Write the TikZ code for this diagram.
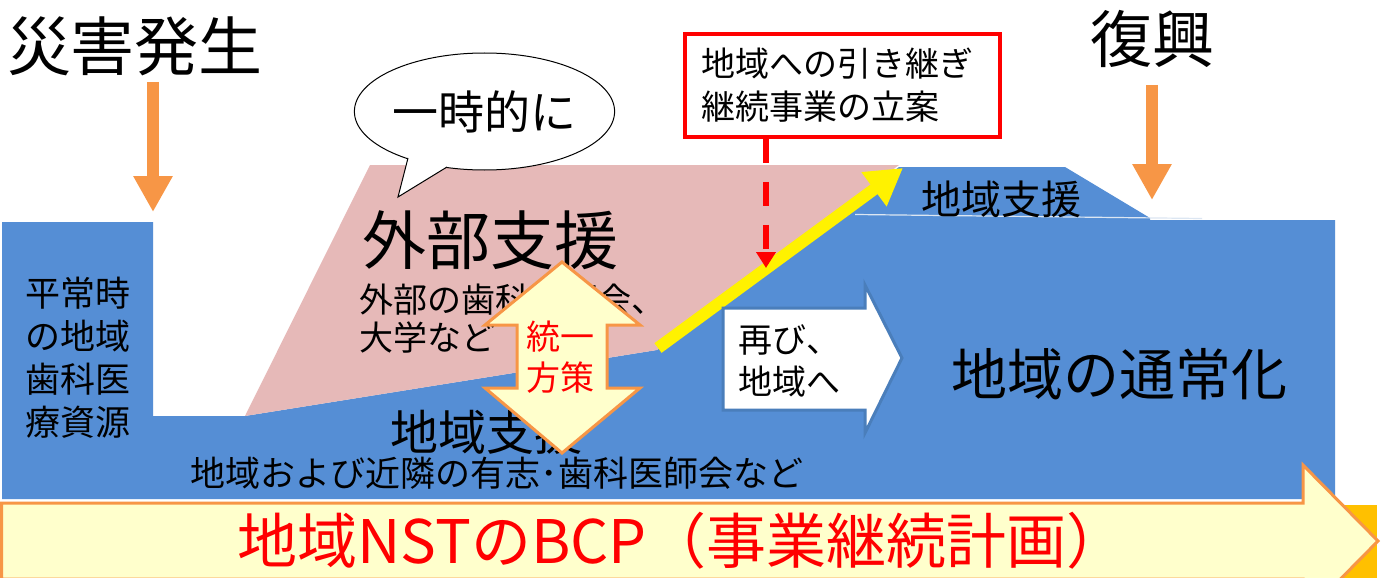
\documentclass[tikz,border=0pt]{standalone}
\usepackage{fontspec}
\setmainfont{Noto Sans CJK JP}
\usetikzlibrary{arrows.meta,shapes.geometric}
\definecolor{rblue}{HTML}{558ED5}
\definecolor{rpink}{HTML}{E6B9B8}
\definecolor{rorange}{HTML}{F79646}
\definecolor{rcream}{HTML}{FFFFCC}
\definecolor{rgold}{HTML}{FFC000}
\definecolor{rborder}{HTML}{4A7EBB}
\definecolor{rtabline}{HTML}{DCE6F2}
\begin{document}
\begin{tikzpicture}[x=1pt,y=-1pt]
\tikzset{
  lbl/.style={inner sep=0pt, text=black},
  fsA/.style={font=\fontsize{35}{43}\selectfont},
  fatarrow/.style={fill=rcream, draw=rorange, line width=3pt, line join=miter},
  downarrow/.style={draw=rorange, line width=12pt, -{Triangle[width=37pt,length=36pt]}},
  yelarrow/.style={draw=yellow, line width=12pt, -{Triangle[width=40pt,length=36pt]}},
  reddash/.style={draw=red, line width=5.5pt, dash pattern=on 24pt off 19pt, -{Triangle[width=19pt,length=16pt]}},
}
\useasboundingbox (0,0) rectangle (1385,578);
\fill[white] (0,0) rectangle (1385,578);

% gold patch behind the big arrow
\fill[rgold] (1340,505) rectangle (1377,578);

% blue region
\fill[rblue] (2,222) -- (153,222) -- (153,416) -- (245,416) -- (657,350) -- (899,167)
  -- (1065,167) -- (1150,218) -- (1150,220) -- (1335,220) -- (1335,499) -- (2,499) -- cycle;
% pink region
\fill[rpink] (245,416) -- (370,165) -- (899,165) -- (657,350) -- cycle;
% faint line on the tab
\draw[rtabline, line width=1.2pt] (855,214.5) -- (1202,218.5);

% speech bubble
\node[ellipse, draw=black, line width=1pt, fill=white, inner sep=0pt,
  minimum width=255pt, minimum height=117pt, font=\fontsize{46}{50}\selectfont]
  (bubble) at (484.5,111.5) {\raisebox{-5pt}{一時的に}};
\fill[white] (408,158) -- (398,197) -- (447,167) -- (447,160) -- (410,150) -- cycle;
\draw[black, line width=1pt, line join=miter] (408,158) -- (398,197) -- (447,167);

% texts on the areas
\node[lbl, font=\fontsize{35}{43}\selectfont, align=center] (heijo) at (78,358)
  {平常時\\の地域\\歯科医\\療資源};
\node[lbl, font=\fontsize{64}{70}\selectfont] (gaibu) at (490,240) {外部支援};
\node[lbl, font=\fontsize{34}{38}\selectfont, align=left, anchor=west] (gaibusub) at (359,319)
  {外部の歯科医師会、\\大学など};
\node[lbl, font=\fontsize{48}{52}\selectfont] (chiiki) at (486,432) {地域支援};
\node[lbl, fsA] (chiikisub) at (497,473) {地域および近隣の有志･歯科医師会など};
\node[lbl, font=\fontsize{40}{44}\selectfont] (tab) at (1001,199) {地域支援};
\node[lbl, font=\fontsize{56}{60}\selectfont] (tsujo) at (1119,374) {地域の通常化};

% yellow arrow
\coordinate (ys) at (658,348);
\coordinate (ye) at (903,168);
\draw[yelarrow] (ys) -- (ye);

% double arrow
\filldraw[fatarrow] (562,262) -- (640,325) -- (607,325) -- (607,388) -- (640,388) -- (562,453)
  -- (485,388) -- (517,388) -- (517,325) -- (485,325) -- cycle;
\node[lbl, text=red, font=\fontsize{34}{41}\selectfont, align=center] (toitsu) at (560,357) {統一\\方策};

% white arrow
\filldraw[fill=white, draw=rborder, line width=3pt, line join=miter]
  (723,308) -- (865,308) -- (865,285) -- (902,358) -- (865,433) -- (865,410) -- (723,410) -- cycle;
\node[lbl, font=\fontsize{34}{42}\selectfont, align=left, anchor=west] (futatabi) at (738,361)
  {再び、\\地域へ};

% red box and dashed arrow
\node[draw=red, line width=3.5pt, fill=white, inner xsep=16pt, inner ysep=0pt, text width=283pt,
  minimum height=103pt, align=left, font=\fontsize{34}{43}\selectfont] (box) at (842.5,85.5)
  {地域への引き継ぎ\\継続事業の立案};
\coordinate (rtip) at (766,268);
\draw[reddash] (box.south -| rtip) -- (rtip);

% orange arrows
\coordinate (a1s) at (153,82);
\coordinate (a1e) at (153,212);
\draw[downarrow] (a1s) -- (a1e);
\coordinate (a2s) at (1152,85);
\coordinate (a2e) at (1152,200);
\draw[downarrow] (a2s) -- (a2e);

% titles
\node[lbl, font=\fontsize{64}{70}\selectfont] (hassei) at (135,46) {災害発生};
\node[lbl, font=\fontsize{62}{70}\selectfont] (fukko) at (1152,39) {復興};

% bottom arrow
\filldraw[fatarrow] (1.5,503) -- (1303,503) -- (1303,465) -- (1378,541) -- (1303,617)
  -- (1303,579) -- (1.5,579) -- cycle;
\node[lbl, text=red, font=\fontsize{60}{66}\selectfont] (bcp) at (682,541) {地域NSTのBCP（事業継続計画）};
\end{tikzpicture}
\end{document}
